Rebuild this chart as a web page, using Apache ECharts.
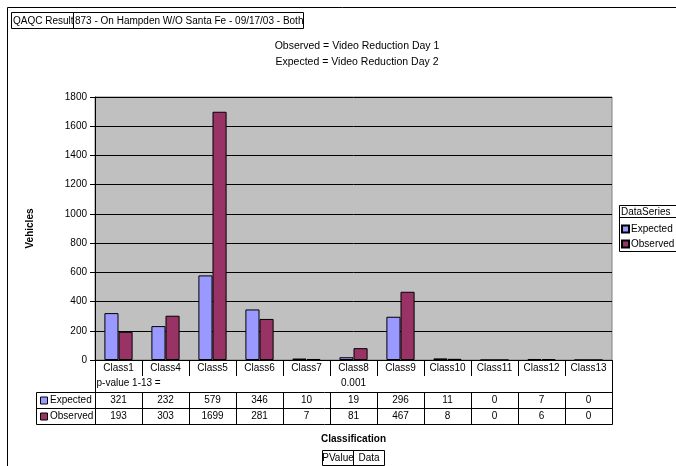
<!DOCTYPE html>
<html>
<head>
<meta charset="utf-8">
<script src="https://cdn.jsdelivr.net/npm/echarts@6/dist/echarts.min.js"></script>
<style>
  html, body { margin: 0; padding: 0; background: #fff; }
  #chart { width: 676px; height: 466px; }
</style>
</head>
<body>
<div id="chart"></div>
<script>
// Vehicle counts by classification for the two video reduction days
const categories = ['Class1', 'Class4', 'Class5', 'Class6', 'Class7', 'Class8', 'Class9', 'Class10', 'Class11', 'Class12', 'Class13'];
const expected = [321, 232, 579, 346, 10, 19, 296, 11, 0, 7, 0];
const observed = [193, 303, 1699, 281, 7, 81, 467, 8, 0, 6, 0];
const seriesNames = ['Expected', 'Observed'];
const seriesColors = ['#9999FF', '#993366'];
const pValueLabel = 'p-value 1-13 =';
const pValue = '0.001';
const pValueColumn = 'Class8';
const yTicks = { min: 0, max: 1800, interval: 200 };

const FONT = '"Liberation Sans", Arial, sans-serif';
const FS = 10;
const chart = echarts.init(document.getElementById('chart'), null, { renderer: 'canvas' });

const GRID = { left: 95, right: 64, top: 97, bottom: 106 };

const baseOption = {
  animation: false,
  textStyle: { fontFamily: FONT },
  grid: {
    left: GRID.left, right: GRID.right, top: GRID.top, bottom: GRID.bottom,
    show: true, backgroundColor: '#C0C0C0', borderColor: '#808080', borderWidth: 1
  },
  legend: {
    orient: 'vertical',
    left: 621, top: 224,
    itemWidth: 7, itemHeight: 7, itemGap: 5,
    icon: 'rect',
    padding: 0,
    textStyle: { fontFamily: FONT, fontSize: FS, color: '#000', padding: [0, 0, 0, -3] },
    data: seriesNames
  },
  xAxis: {
    type: 'category',
    data: categories,
    name: 'Classification',
    nameLocation: 'middle',
    nameGap: 74,
    nameTextStyle: { fontFamily: FONT, fontSize: FS, fontWeight: 'bold', color: '#000' },
    axisLine: { lineStyle: { color: '#000', width: 1 } },
    axisTick: { show: true, length: 16, interval: 0, lineStyle: { color: '#000' } },
    axisLabel: { interval: 0, margin: 3, fontSize: FS, color: '#000', fontFamily: FONT }
  },
  yAxis: {
    type: 'value',
    min: yTicks.min, max: yTicks.max, interval: yTicks.interval,
    name: 'Vehicles',
    nameLocation: 'middle',
    nameGap: 60,
    nameRotate: 90,
    nameTextStyle: { fontFamily: FONT, fontSize: FS, fontWeight: 'bold', color: '#000' },
    axisLine: { show: true, lineStyle: { color: '#000', width: 1 } },
    axisTick: { show: true, length: 5, lineStyle: { color: '#000' } },
    axisLabel: { margin: 8, fontSize: FS, color: '#000', fontFamily: FONT, formatter: v => String(v) },
    splitLine: { show: true, lineStyle: { color: '#000', width: 1 } }
  },
  series: [
    {
      name: seriesNames[0], type: 'bar', data: expected,
      barGap: '0%', barCategoryGap: '40%',
      itemStyle: { color: seriesColors[0], borderColor: '#000', borderWidth: 1 }
    },
    {
      name: seriesNames[1], type: 'bar', data: observed,
      barGap: '0%', barCategoryGap: '40%',
      itemStyle: { color: seriesColors[1], borderColor: '#000', borderWidth: 1 }
    }
  ]
};

chart.setOption(baseOption);

// Data table under the category axis, aligned to the axis columns
function buildGraphics() {
  const g = [];
  const txt = (x, y, text, opts = {}) => g.push({
    type: 'text', x, y, silent: true,
    style: Object.assign({ text, fill: '#000', font: FS + 'px ' + FONT, textAlign: 'center', textVerticalAlign: 'middle' }, opts)
  });
  const line = (x1, y1, x2, y2, color = '#000') => g.push({
    type: 'line', silent: true, shape: { x1, y1, x2, y2 }, style: { stroke: color, lineWidth: 1 }
  });
  const rect = (x, y, w, h, fill = 'none', stroke = '#000') => g.push({
    type: 'rect', silent: true, shape: { x, y, width: w, height: h }, style: { fill, stroke, lineWidth: 1 }
  });

  // outer frame
  rect(7.5, 7.5, 700, 500, 'none', '#000');

  // header boxes
  rect(11.5, 12.5, 62, 16);
  rect(73.5, 12.5, 230, 16);
  txt(13, 21, 'QAQC Result', { textAlign: 'left' });
  txt(75, 21, '873 - On Hampden W/O Santa Fe - 09/17/03 - Both', { textAlign: 'left' });

  // subtitle lines
  txt(357, 46, 'Observed = Video Reduction Day 1', { font: '10.5px ' + FONT });
  txt(357, 62, 'Expected = Video Reduction Day 2', { font: '10.5px ' + FONT });

  // legend frame with header
  rect(619.5, 205.5, 60, 46);
  line(619.5, 217.5, 680, 217.5);
  txt(621, 212, 'DataSeries', { textAlign: 'left' });

  // table geometry from axis scale
  const n = categories.length;
  const left = chart.convertToPixel({ xAxisIndex: 0 }, categories[0]);
  const right = chart.convertToPixel({ xAxisIndex: 0 }, categories[n - 1]);
  const step = (right - left) / (n - 1);
  const x0 = Math.round(left - step / 2) + 0.5;
  const x1 = Math.round(right + step / 2) + 0.5;
  const axisY = chart.convertToPixel({ yAxisIndex: 0 }, 0);

  const rowP = axisY + 23;
  const r1 = Math.round(axisY + 32) + 0.5;
  const r2 = r1 + 16;
  const r3 = r2 + 16;
  const headL = 36.5;

  line(x0, axisY, x0, r3);
  line(x1, axisY, x1, r3);
  line(headL, r1, x1, r1);
  line(headL, r2, x1, r2);
  line(headL, r3, x1, r3);
  line(headL, r1, headL, r3);

  txt(x0 + 1, rowP, pValueLabel, { textAlign: 'left' });
  const pIdx = categories.indexOf(pValueColumn);
  txt(left + pIdx * step, rowP, pValue);

  const rows = [expected, observed];
  rows.forEach((vals, ri) => {
    const top = r1 + ri * 16;
    const cy = top + 8;
    rect(40.5, cy - 3.5, 7, 7, seriesColors[ri], '#000');
    txt(50, cy, seriesNames[ri], { textAlign: 'left' });
    vals.forEach((v, i) => {
      const cx = left + i * step;
      txt(cx, cy, String(v));
      if (i > 0) {
        const bx = Math.round(x0 + i * step - 0.5) + 0.5;
        line(bx, top, bx, top + 16);
      }
    });
  });

  // page field buttons
  rect(322.5, 450.5, 31, 15);
  rect(353.5, 450.5, 31, 15);
  txt(338, 458, 'PValue');
  txt(369, 458, 'Data');

  return g;
}

chart.setOption({ graphic: buildGraphics() });
</script>
</body>
</html>
